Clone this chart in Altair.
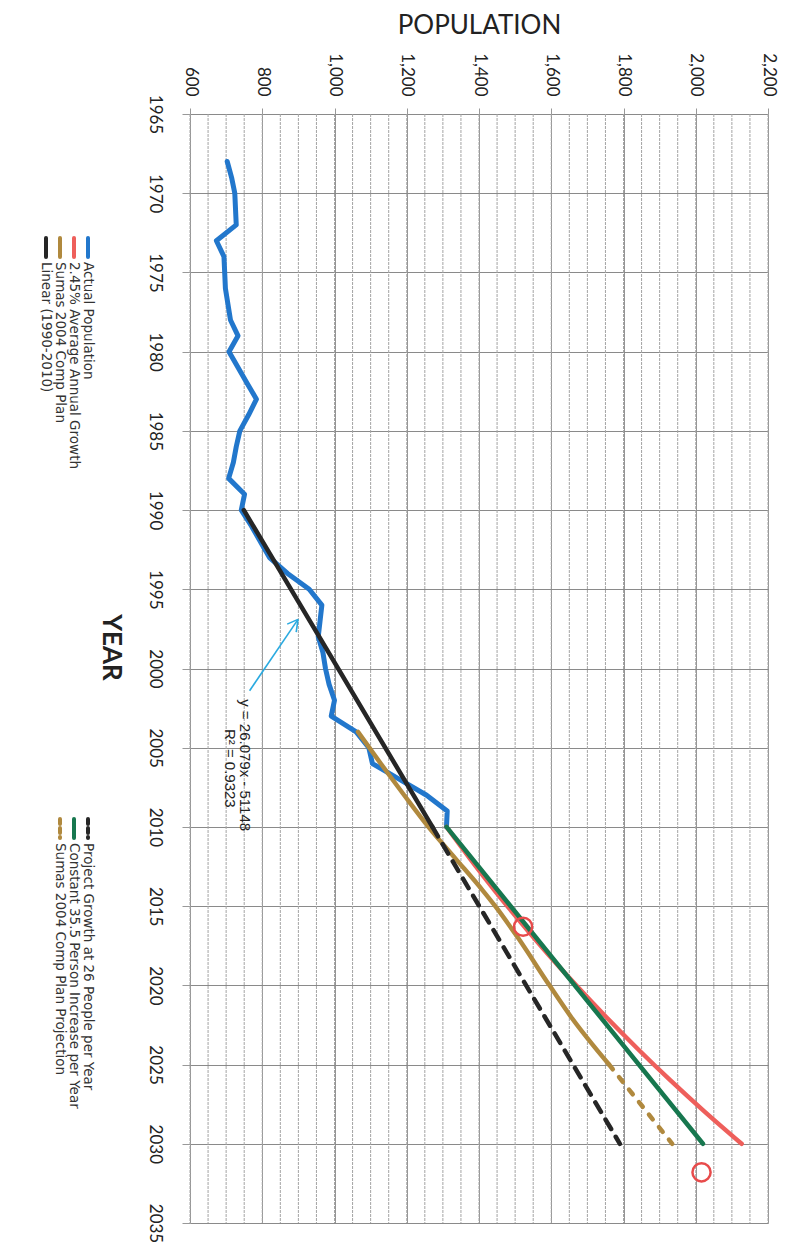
import altair as alt
import pandas as pd

# ---------------- data ----------------
actual_years = [1968, 1969, 1970, 1971, 1972, 1973, 1974, 1975, 1976, 1977, 1978, 1979,
                1980, 1981, 1982, 1983, 1984, 1985, 1986, 1987, 1988, 1989, 1990, 1991,
                1992, 1993, 1994, 1995, 1996, 1997, 1998, 1999, 2000, 2001, 2002, 2003,
                2004, 2005, 2006, 2007, 2008, 2009, 2010]
actual_pop = [703, 715, 724, 726, 728, 673, 694, 696, 698, 705, 712, 733,
              708, 733, 758, 784, 762, 738, 728, 720, 707, 751, 742, 770,
              795, 820, 870, 930, 965, 960, 955, 968, 975, 985, 1000, 991,
              1060, 1095, 1105, 1180, 1255, 1312, 1310]

growth_years = [2010, 2012, 2014, 2016, 2018, 2020, 2022, 2024, 2026, 2028, 2030]
growth_pop = [1310, 1375, 1443, 1515, 1590, 1669, 1752, 1839, 1930, 2026, 2127]

plan_years = [2004, 2006, 2008, 2010, 2012, 2014, 2015, 2017, 2020, 2022, 2025]
plan_pop = [1065, 1128, 1193, 1260, 1335, 1410, 1445, 1508, 1595, 1655, 1760]

plan_proj_years = [2025, 2030]
plan_proj_pop = [1760, 1935]

linear_years = [1990, 2010]
linear_pop = [749, 1271]

proj26_years = [2010, 2030]
proj26_pop = [1271, 1790]

const_years = [2010, 2030]
const_pop = [1310, 2020]

circle_years = [2016.3, 2031.8]
circle_pop = [1522, 2016]

arrow_seg = [0, 0, 1, 1, 2, 2]
arrow_years = [2001.4, 1996.9, 1996.9, 1997.2, 1996.9, 1997.7]
arrow_pop = [765, 899, 899, 869, 899, 894]

eq_text = ["y = 26.079x - 51148", "R² = 0.9323"]
eq_years = [2006.1, 2006.3]
eq_pop = [752, 710]

pop_ticks = [600, 800, 1000, 1200, 1400, 1600, 1800, 2000, 2200]
pop_minor = list(range(600, 2201, 50))
year_ticks = [1965, 1970, 1975, 1980, 1985, 1990, 1995, 2000, 2005, 2010, 2015, 2020, 2025, 2030, 2035]

legend_left = ["Actual Population", "2.45% Average Annual Growth",
               "Sumas 2004 Comp Plan", "Linear (1990-2010)"]
legend_right = ["Project Growth at 26 People per Year",
                "Constant 35.5 Person Increase per Year",
                "Sumas 2004 Comp Plan Projection"]

# ---------------- styles ----------------
BLUE = "#2277cc"
RED = "#ee5f5b"
GOLD = "#b0893e"
GREEN = "#17774f"
BLACK = "#262626"
CYAN = "#2aaae0"
FONT = "Lato"
LFONT = "DejaVu Sans"

W, H = 578, 1109

x_scale = alt.Scale(domain=[600, 2200], nice=False, zero=False)
y_scale = alt.Scale(domain=[1965, 2035], nice=False, zero=False, reverse=True)

x_axis = alt.Axis(orient="top", values=pop_ticks, format=",d", labelAngle=90,
                  labelAlign="right", labelBaseline="middle", labelPadding=12,
                  labelFont=FONT, labelFontSize=17, labelColor="#222",
                  tickSize=6, tickColor="#999", domain=False,
                  grid=True, gridColor="#959595", gridWidth=1,
                  title="POPULATION", titleFont=FONT, titleFontSize=26,
                  titleFontWeight="normal", titleColor="#222",
                  titleX=W / 2, titleY=-81, titleAlign="center", titleBaseline="alphabetic")
y_axis = alt.Axis(values=year_ticks, format="d", labelAngle=90,
                  labelAlign="center", labelBaseline="middle", labelPadding=28,
                  labelFont=FONT, labelFontSize=17, labelColor="#222",
                  tickSize=8, tickColor="#999", domain=False,
                  grid=True, gridColor="#8a8a8a", gridWidth=1,
                  title="YEAR", titleFont=FONT, titleFontSize=26, titleFontWeight="bold",
                  titleColor="#222", titleAngle=90, titleX=-80, titleY=533,
                  titleAlign="center", titleBaseline="middle")

X = alt.X("pop:Q", scale=x_scale, axis=x_axis)
Y = alt.Y("year:Q", scale=y_scale, axis=y_axis)


def df(years, pops):
    return pd.DataFrame({"year": years, "pop": pops})


def series(years, pops, color, width=4.5, dash=None, interp="linear"):
    kw = dict(color=color, strokeWidth=width, strokeCap="round", strokeJoin="round",
              interpolate=interp)
    if dash:
        kw["strokeDash"] = dash
    return alt.Chart(df(years, pops)).mark_line(**kw).encode(
        x=X, y=Y, order="year:Q")


minor_grid = alt.Chart(pd.DataFrame({"pop": pop_minor})).mark_rule(
    color="#a4a4a4", strokeWidth=1, strokeDash=[3, 1]).encode(x=X)

layers = [minor_grid]
layers.append(series(actual_years, actual_pop, BLUE, 5))
layers.append(series(growth_years, growth_pop, RED, 4.5, interp="monotone"))
layers.append(series(const_years, const_pop, GREEN, 4.5))
layers.append(series(plan_years, plan_pop, GOLD, 4.5, interp="monotone"))
layers.append(series(plan_proj_years, plan_proj_pop, GOLD, 4.5, dash=[6, 10]))
layers.append(series(linear_years, linear_pop, BLACK, 4.5))
layers.append(series(proj26_years, proj26_pop, BLACK, 4.5, dash=[11, 9]))

layers.append(alt.Chart(df(circle_years, circle_pop)).mark_point(
    shape="circle", filled=False, size=330, color="#e84b4b", strokeWidth=2.5, opacity=1
).encode(x=X, y=Y))

arrow_df = pd.DataFrame({"seg": arrow_seg, "year": arrow_years, "pop": arrow_pop})
layers.append(alt.Chart(arrow_df).mark_line(color=CYAN, strokeWidth=1.6).encode(
    x=X, y=Y, detail="seg:N"))

eq_df = pd.DataFrame({"t": eq_text, "year": eq_years, "pop": eq_pop})
layers.append(alt.Chart(eq_df).mark_text(
    angle=90, align="center", baseline="middle", font="Liberation Sans",
    fontSize=15, color="#222").encode(x=X, y=Y, text="t:N"))

# ---------------- legend (drawn manually, rotated) ----------------
PX0, PY0 = 190, 114  # page position of plot origin


def legend_block(names, colors, dashes, sym_y0, sym_y1, text_y, row_x0, step):
    out = []
    for i, (name, c, d) in enumerate(zip(names, colors, dashes)):
        xr = row_x0 - i * step - PX0
        kw = dict(color=c, strokeWidth=4, strokeCap="round")
        if d:
            kw["strokeDash"] = d
        out.append(alt.Chart(pd.DataFrame({"a": [0]})).mark_rule(**kw).encode(
            x=alt.value(xr), y=alt.value(sym_y0 - PY0), y2=alt.value(sym_y1 - PY0)))
        out.append(alt.Chart(pd.DataFrame({"t": [name]})).mark_text(
            angle=90, align="left", baseline="middle", font=LFONT, fontSize=13.5,
            color="#333").encode(x=alt.value(xr), y=alt.value(text_y - PY0), text="t:N"))
    return out


layers += legend_block(legend_left, [BLUE, RED, GOLD, BLACK], [None, None, None, None],
                       238, 257, 262, 88, 14)
layers += legend_block(legend_right, [BLACK, GREEN, GOLD], [[5, 4], None, [5, 4]],
                       819, 838, 843, 88, 14)

chart = alt.layer(*layers).properties(
    width=W, height=H,
    autosize=alt.AutoSizeParams(type="none"),
    padding={"left": PX0 - 8, "top": PY0 - 8, "right": 13, "bottom": 22},
    background="white",
).configure_view(stroke=None)

chart.save("out.html", embed_options={"renderer": "svg", "actions": False})
